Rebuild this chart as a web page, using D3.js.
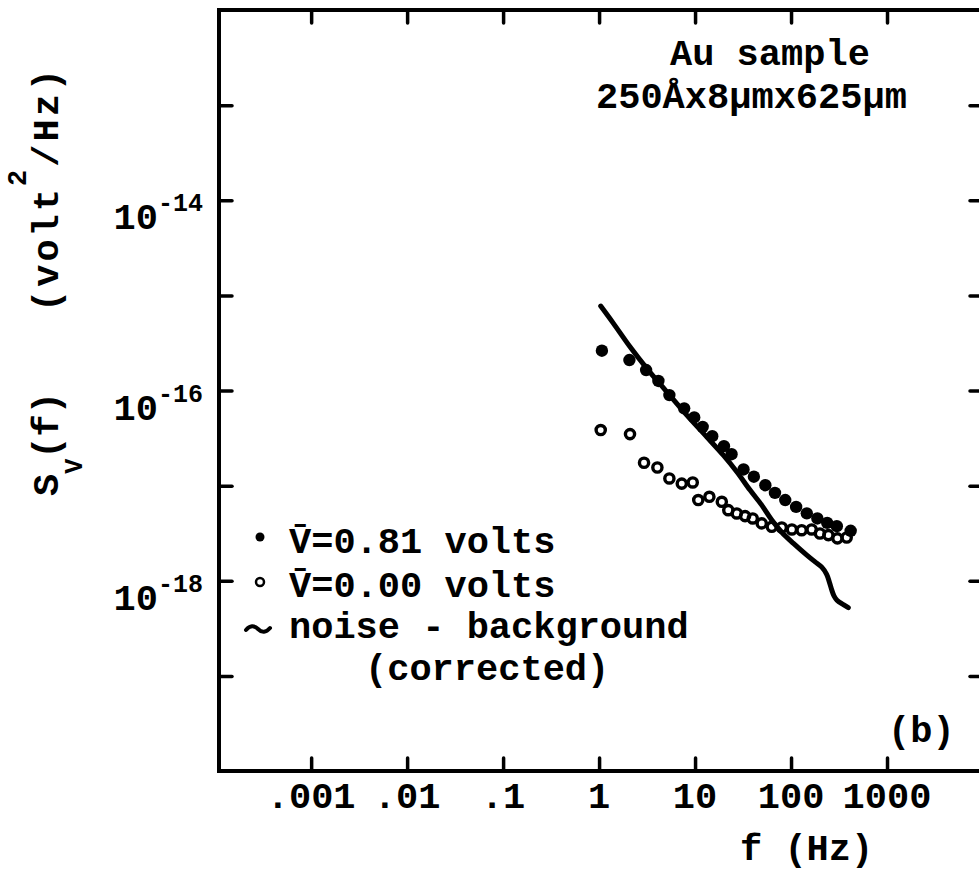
<!DOCTYPE html>
<html><head><meta charset="utf-8">
<script src="https://cdn.jsdelivr.net/npm/d3@7"></script>
<style>body{margin:0;background:#fff}svg{display:block}</style>
</head><body>
<svg id="c" width="979" height="874"></svg>
<script>
// ---- data ----
const xTickValues = [0.001, 0.01, 0.1, 1, 10, 100, 1000];
const xTickLabels = [".001", ".01", ".1", "1", "10", "100", "1000"];
const yTickValues = [1e-13, 1e-14, 1e-15, 1e-16, 1e-17, 1e-18, 1e-19];
const yLabelValues = [1e-14, 1e-16, 1e-18];
const yLabelExps = ["-14", "-16", "-18"];

// V = 0.81 volts (filled circles)
const biasF = [1.07, 2.07, 3.09, 4.15, 5.4, 7.7, 9.8, 12, 15.1, 20, 24, 32, 41, 54, 68, 87, 113, 146, 188, 238, 300, 418];
const biasS = [2.62e-16, 2.09e-16, 1.64e-16, 1.26e-16, 8.95e-17, 6.49e-17, 5.21e-17, 4.15e-17, 3.31e-17, 2.60e-17, 2.14e-17,
               1.48e-17, 1.24e-17, 1.01e-17, 8.39e-18, 7.05e-18, 5.98e-18, 5.11e-18, 4.52e-18, 4.06e-18, 3.75e-18, 3.35e-18];

// V = 0.00 volts (open circles)
const zeroF = [1.04, 2.10, 2.94, 4.05, 5.40, 7.27, 9.46, 10.8, 14.1, 19.0, 22.2, 27.2, 33.2, 39.9, 49.5, 63.0, 80.0, 102, 129, 164, 200, 245, 304, 380];
const zeroS = [3.84e-17, 3.48e-17, 1.74e-17, 1.55e-17, 1.19e-17, 1.05e-17, 1.08e-17, 7.05e-18, 7.63e-18, 6.76e-18, 5.52e-18, 5.10e-18,
               4.78e-18, 4.52e-18, 4.01e-18, 3.69e-18, 3.63e-18, 3.46e-18, 3.40e-18, 3.46e-18, 3.14e-18, 3.02e-18, 2.79e-18, 2.85e-18];

// noise - background (corrected), solid line
const noiseF = [1.04, 1.41, 2.10, 3.14, 5.07, 8.20, 13.2, 19.7, 27.2, 37.4, 49.5, 63.0, 80.0, 106, 146, 178, 209, 235, 251, 266, 281, 301, 351, 395];
const noiseS = [7.72e-16, 5.08e-16, 2.88e-16, 1.71e-16, 9.69e-17, 5.51e-17, 3.26e-17, 2.09e-17, 1.40e-17, 8.97e-18, 6.24e-18, 4.34e-18,
                3.24e-18, 2.47e-18, 1.86e-18, 1.58e-18, 1.39e-18, 1.17e-18, 9.66e-19, 7.96e-19, 6.89e-19, 6.25e-19, 5.61e-19, 5.21e-19];

const legendRows = ["V\u0304=0.81 volts", "V\u0304=0.00 volts", "noise - background", "(corrected)"];
const sampleLines = ["Au sample", "250\u00C5x8\u03BCmx625\u03BCm"];

// ---- drawing ----
const FONT = "'Liberation Mono', 'DejaVu Sans Mono', monospace";
const svg = d3.select("#c");
svg.append("rect").attr("width", 979).attr("height", 874).attr("fill", "#fff");

const x = d3.scaleLog().domain([Math.pow(10, -3.96), 1e4]).range([219, 983]);
const y = d3.scaleLog().domain([1e-20, 1e-12]).range([771, 10]);

const [x0, x1] = x.range();
const [yb, yt] = y.range();

// frame
svg.append("rect")
  .attr("x", x0).attr("y", yt).attr("width", x1 - x0).attr("height", yb - yt)
  .attr("fill", "none").attr("stroke", "#000").attr("stroke-width", 4);

function styleAxis(g) {
  g.select(".domain").remove();
  g.selectAll(".tick line").attr("stroke", "#000").attr("stroke-width", 3.5).attr("stroke-linecap", "round");
  g.selectAll(".tick text").remove();
}
// bottom & top ticks (inward)
svg.append("g").attr("transform", `translate(0,${yb})`)
  .call(d3.axisBottom(x).tickValues(xTickValues).tickSize(-13)).call(styleAxis);
svg.append("g").attr("transform", `translate(0,${yt})`)
  .call(d3.axisTop(x).tickValues(xTickValues).tickSize(-13)).call(styleAxis);
// left & right ticks (inward)
svg.append("g").attr("transform", `translate(${x0},0)`)
  .call(d3.axisLeft(y).tickValues(yTickValues).tickSize(-13)).call(styleAxis);
svg.append("g").attr("transform", `translate(${x1},0)`)
  .call(d3.axisRight(y).tickValues(yTickValues).tickSize(-13)).call(styleAxis);

// x tick labels
svg.append("g").selectAll("text").data(xTickValues).join("text")
  .attr("x", d => x(d)).attr("y", 808)
  .attr("text-anchor", "middle")
  .attr("font-family", FONT).attr("font-weight", "bold").attr("font-size", 37)
  .text((d, i) => xTickLabels[i]);

// y tick labels 10^n
const yl = svg.append("g").selectAll("g").data(yLabelValues).join("g");
yl.append("text")
  .attr("x", 158).attr("y", d => y(d) + 29)
  .attr("text-anchor", "end")
  .attr("font-family", FONT).attr("font-weight", "bold").attr("font-size", 37)
  .text("10");
yl.append("text")
  .attr("x", 158).attr("y", d => y(d) + 11)
  .attr("font-family", FONT).attr("font-weight", "bold").attr("font-size", 25)
  .text((d, i) => yLabelExps[i]);

// axis titles
svg.append("text")
  .attr("x", 740).attr("y", 860)
  .attr("font-family", FONT).attr("font-weight", "bold").attr("font-size", 37)
  .text("f (Hz)");

const t1 = svg.append("text")
  .attr("transform", "translate(58,496) rotate(-90)")
  .attr("font-family", FONT).attr("font-weight", "bold").attr("font-size", 37);
t1.append("tspan").text("S");
t1.append("tspan").attr("dy", 24).attr("font-size", 25).text("V");
t1.append("tspan").attr("dy", -24).text("(f)");

const t2 = svg.append("text")
  .attr("transform", "translate(58,312) rotate(-90)")
  .attr("font-family", FONT).attr("font-weight", "bold").attr("font-size", 37)
  .attr("letter-spacing", 3);
t2.append("tspan").text("(volt");
t2.append("tspan").attr("dy", -32).attr("font-size", 27).text("2");
t2.append("tspan").attr("dy", 32).text("/Hz)");

// sample annotation
svg.append("text").attr("x", 670).attr("y", 65)
  .attr("font-family", FONT).attr("font-weight", "bold").attr("font-size", 37).text(sampleLines[0]);
svg.append("text").attr("x", 596).attr("y", 108)
  .attr("font-family", FONT).attr("font-weight", "bold").attr("font-size", 37).text(sampleLines[1]);

// panel label
svg.append("text").attr("x", 888).attr("y", 742)
  .attr("font-family", FONT).attr("font-weight", "bold").attr("font-size", 37).text("(b)");

// noise line
const noise = noiseF.map((f, i) => [f, noiseS[i]]);
svg.append("path").datum(noise)
  .attr("d", d3.line().x(d => x(d[0])).y(d => y(d[1])).curve(d3.curveCatmullRom))
  .attr("fill", "none").attr("stroke", "#000").attr("stroke-width", 5)
  .attr("stroke-linecap", "round").attr("stroke-linejoin", "round");

// open circles
svg.append("g").selectAll("circle").data(zeroF.map((f, i) => [f, zeroS[i]])).join("circle")
  .attr("cx", d => x(d[0])).attr("cy", d => y(d[1])).attr("r", 4.6)
  .attr("fill", "none").attr("stroke", "#000").attr("stroke-width", 3.4);

// filled circles
svg.append("g").selectAll("circle").data(biasF.map((f, i) => [f, biasS[i]])).join("circle")
  .attr("cx", d => x(d[0])).attr("cy", d => y(d[1])).attr("r", 6.2)
  .attr("fill", "#000");

// legend
const legY = [553, 597, 638, 680];
const legX = [289, 289, 289, 365];
svg.append("g").selectAll("text").data(legendRows).join("text")
  .attr("x", (d, i) => legX[i]).attr("y", (d, i) => legY[i])
  .attr("font-family", FONT).attr("font-weight", "bold").attr("font-size", 37)
  .text(d => d);
svg.append("circle").attr("cx", 260).attr("cy", legY[0] - 16).attr("r", 4.5).attr("fill", "#000");
svg.append("circle").attr("cx", 260).attr("cy", legY[1] - 15).attr("r", 4).attr("fill", "none")
  .attr("stroke", "#000").attr("stroke-width", 2.5);
svg.append("path")
  .attr("d", `M246,${legY[2] - 8} q6,-7 12,-1 t12,-1`)
  .attr("fill", "none").attr("stroke", "#000").attr("stroke-width", 4).attr("stroke-linecap", "round");
</script>
</body></html>
